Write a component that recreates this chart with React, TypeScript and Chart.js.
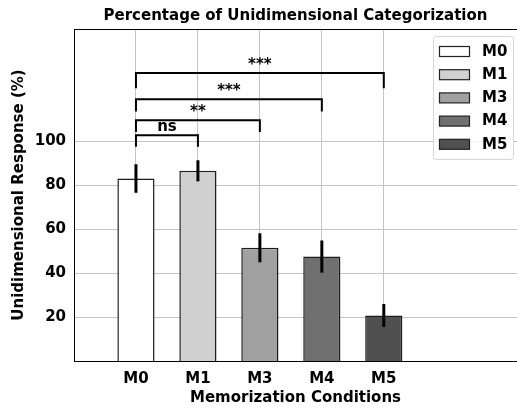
import React, { useEffect, useRef } from "react";
import { Chart, registerables } from "chart.js";

Chart.register(...registerables);

const categories = ["M0", "M1", "M3", "M4", "M5"];
const values = [83, 86.5, 51.5, 47.5, 20.7];
const errors = [6.5, 4.8, 6.6, 7.3, 5.2];
const colors = ["#ffffff", "#d0d0d0", "#a0a0a0", "#707070", "#505050"];
const yTicks = [20, 40, 60, 80, 100];
const bracketStart = [0, 0, 0, 0];
const bracketEnd = [1, 2, 3, 4];
const bracketTop = [102.7, 109.5, 119, 131];
const bracketBottom = [97.5, 104.2, 113.5, 124];
const bracketLabels = ["ns", "**", "***", "***"];

const FONT = "'DejaVu Sans', sans-serif";
const FS = 15;

const overlayPlugin = {
  id: "overlay",
  afterDraw(chart: any) {
    const { ctx, chartArea } = chart;
    const xs = chart.scales.x;
    const ys = chart.scales.y;
    ctx.save();
    // top spine
    ctx.strokeStyle = "#000";
    ctx.lineWidth = 1;
    ctx.beginPath();
    ctx.moveTo(chartArea.left, chartArea.top + 0.5);
    ctx.lineTo(chartArea.right, chartArea.top + 0.5);
    ctx.stroke();

    // error bars
    ctx.lineWidth = 3;
    ctx.lineCap = "butt";
    values.forEach((v, i) => {
      const x = xs.getPixelForValue(i);
      ctx.beginPath();
      ctx.moveTo(x, ys.getPixelForValue(v + errors[i]));
      ctx.lineTo(x, ys.getPixelForValue(v - errors[i]));
      ctx.stroke();
    });

    // significance brackets
    ctx.lineWidth = 2;
    ctx.lineJoin = "miter";
    ctx.fillStyle = "#000";
    ctx.font = `bold ${FS}px ${FONT}`;
    ctx.textAlign = "center";
    ctx.textBaseline = "alphabetic";
    bracketLabels.forEach((lab, i) => {
      const x1 = xs.getPixelForValue(bracketStart[i]);
      const x2 = xs.getPixelForValue(bracketEnd[i]);
      const yt = ys.getPixelForValue(bracketTop[i]);
      const yb = ys.getPixelForValue(bracketBottom[i]);
      ctx.beginPath();
      ctx.moveTo(x1, yb);
      ctx.lineTo(x1, yt);
      ctx.lineTo(x2, yt);
      ctx.lineTo(x2, yb);
      ctx.stroke();
      ctx.fillText(lab, (x1 + x2) / 2, yt - 4);
    });

    // legend
    const bx = chartArea.right - 84;
    const by = chartArea.top + 7;
    const bw = 80;
    const bh = 123;
    ctx.beginPath();
    ctx.roundRect(bx + 0.5, by + 0.5, bw, bh, 3);
    ctx.fillStyle = "rgba(255,255,255,0.85)";
    ctx.fill();
    ctx.strokeStyle = "#d6d6d6";
    ctx.lineWidth = 1;
    ctx.stroke();
    ctx.textAlign = "left";
    ctx.textBaseline = "middle";
    categories.forEach((c, i) => {
      const cy = by + 15.5 + 23.2 * i;
      ctx.fillStyle = colors[i];
      ctx.fillRect(bx + 6.5, cy - 5, 30, 10);
      ctx.strokeStyle = "#222";
      ctx.lineWidth = 1.2;
      ctx.strokeRect(bx + 6.5, cy - 5, 30, 10);
      ctx.fillStyle = "#000";
      ctx.fillText(c, bx + 49, cy + 0.5);
    });
    ctx.restore();
  },
};

export default function App() {
  const ref = useRef<HTMLCanvasElement | null>(null);
  useEffect(() => {
    if (!ref.current) return;
    const chart = new Chart(ref.current, {
      type: "bar",
      data: {
        datasets: [
          {
            data: categories.map((_, i) => ({ x: i, y: values[i] })) as any,
            backgroundColor: colors,
            borderColor: "#1c1c1c",
            borderWidth: 1.5,
            barPercentage: 0.6,
            categoryPercentage: 1,
          },
        ],
      },
      options: {
        animation: false,
        responsive: false,
        devicePixelRatio: 1,
        layout: { padding: { left: 0, top: 0, bottom: 0, right: 13 } },
        plugins: {
          legend: { display: false },
          tooltip: { enabled: false },
          title: {
            display: true,
            text: "Percentage of Unidimensional Categorization",
            fullSize: false,
            color: "#000",
            font: { family: FONT, size: FS, weight: "bold" },
            padding: { top: 7, bottom: 4 },
          } as any,
        },
        scales: {
          x: {
            type: "linear",
            min: -1,
            max: 6.15,
            offset: false,
            z: 1,
            afterBuildTicks: (s: any) => {
              s.ticks = categories.map((_, i) => ({ value: i }));
            },
            afterFit: (s: any) => {
              s.height = 47;
            },
            ticks: {
              callback: (_v: any, i: number) => categories[i],
              color: "#000",
              font: { family: FONT, size: FS, weight: "bold" },
              padding: 9,
              maxRotation: 0,
            },
            grid: { color: "#c4c4c4", lineWidth: 1, drawTicks: false, offset: false },
            border: { color: "#000", width: 1 },
            title: {
              display: true,
              text: "Memorization Conditions",
              color: "#000",
              font: { family: FONT, size: FS, weight: "bold" },
              padding: { top: 0, bottom: 1 },
            },
          },
          y: {
            type: "linear",
            min: 0,
            max: 151,
            z: 1,
            afterBuildTicks: (s: any) => {
              s.ticks = yTicks.map((v) => ({ value: v }));
            },
            afterFit: (s: any) => {
              s.width = 74;
            },
            ticks: {
              color: "#000",
              font: { family: FONT, size: FS, weight: "bold" },
              padding: 8,
            },
            grid: { color: "#c4c4c4", lineWidth: 1, drawTicks: false },
            border: { color: "#000", width: 1 },
            title: {
              display: true,
              text: "Unidimensional Response (%)",
              color: "#000",
              font: { family: FONT, size: FS, weight: "bold" },
              padding: { top: 10, bottom: 0 },
            },
          },
        },
      } as any,
      plugins: [overlayPlugin],
    });
    return () => chart.destroy();
  }, []);
  return (
    <div style={{ position: "fixed", left: 0, top: 0, width: 517, height: 408, overflow: "hidden", background: "#fff" }}>
      <canvas ref={ref} width={530} height={408} style={{ display: "block" }} />
    </div>
  );
}
